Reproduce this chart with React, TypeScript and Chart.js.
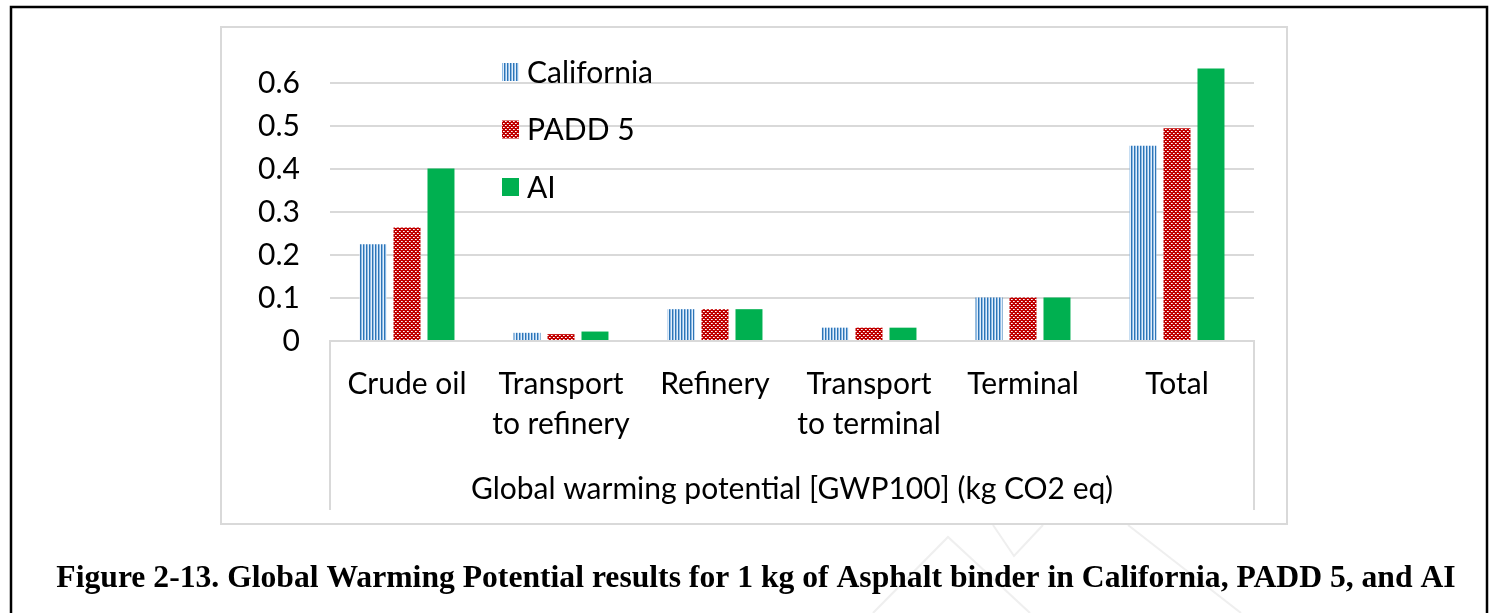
import React, { useEffect, useRef } from 'react';
import { Chart, registerables } from 'chart.js';

Chart.register(...registerables);

// ---- data ----
const categories: (string | string[])[] = [
  'Crude oil',
  ['Transport', 'to refinery'],
  'Refinery',
  ['Transport', 'to terminal'],
  'Terminal',
  'Total',
];
const seriesNames = ['California', 'PADD 5', 'AI'];
const californiaValues = [0.225, 0.019, 0.074, 0.031, 0.101, 0.454];
const padd5Values = [0.264, 0.016, 0.074, 0.031, 0.101, 0.495];
const aiValues = [0.401, 0.022, 0.074, 0.031, 0.101, 0.634];
const yTickValues = [0, 0.1, 0.2, 0.3, 0.4, 0.5, 0.6];
const yTickLabels = ['0', '0.1', '0.2', '0.3', '0.4', '0.5', '0.6'];
const xAxisTitle = 'Global warming potential [GWP100] (kg CO2 eq)';
const captionText =
  'Figure 2-13. Global Warming Potential results for 1 kg of Asphalt binder in California, PADD 5, and AI';

// ---- style ----
const FONT = 'Lato';
const FS = 30;
const GRID = '#d9d9d9';

function makePattern(w: number, h: number, draw: (c: CanvasRenderingContext2D) => void) {
  const cv = document.createElement('canvas');
  cv.width = w;
  cv.height = h;
  const c = cv.getContext('2d')!;
  draw(c);
  return c.createPattern(cv, 'repeat')!;
}

export default function App() {
  const ref = useRef<HTMLCanvasElement>(null);

  useEffect(() => {
    const stripes = makePattern(3, 4, (c) => {
      c.fillStyle = '#e4eef9';
      c.fillRect(0, 0, 3, 4);
      c.fillStyle = '#2e75b6';
      c.fillRect(0, 0, 1, 4);
      c.fillStyle = '#8dbbe6';
      c.fillRect(1, 0, 1, 4);
    });
    const dots = makePattern(4, 4, (c) => {
      c.fillStyle = '#c00000';
      c.fillRect(0, 0, 4, 4);
      c.fillStyle = '#ffffff';
      c.fillRect(1, 1, 1, 1);
      c.fillRect(3, 3, 1, 1);
      c.fillStyle = '#f0b0b0';
      c.fillRect(2, 1, 1, 1);
      c.fillRect(0, 3, 1, 1);
    });
    const green = '#00b050';

    const decor = {
      id: 'decor',
      beforeDraw(chart: any) {
        const ctx: CanvasRenderingContext2D = chart.ctx;
        ctx.save();
        ctx.fillStyle = '#ffffff';
        ctx.fillRect(0, 0, chart.width, chart.height);
        // faint watermark
        ctx.strokeStyle = '#efefef';
        ctx.lineWidth = 2;
        ctx.beginPath();
        ctx.moveTo(873, 613);
        ctx.lineTo(948, 537);
        ctx.lineTo(1030, 613);
        ctx.moveTo(993, 525);
        ctx.lineTo(1014, 556);
        ctx.lineTo(1043, 525);
        ctx.moveTo(1128, 525);
        ctx.lineTo(1241, 613);
        ctx.stroke();
        // outer page border
        ctx.strokeStyle = '#000000';
        ctx.lineWidth = 2.5;
        ctx.strokeRect(11, 7, 1476, 640);
        // chart frame
        ctx.fillStyle = '#ffffff';
        ctx.fillRect(220, 26, 1068, 499);
        ctx.strokeStyle = GRID;
        ctx.lineWidth = 2;
        ctx.strokeRect(221, 27, 1066, 497);
        ctx.restore();
      },
      afterDraw(chart: any) {
        const ctx: CanvasRenderingContext2D = chart.ctx;
        const { left, right, bottom } = chart.chartArea;
        ctx.save();
        // multi-level category box sides
        ctx.strokeStyle = GRID;
        ctx.lineWidth = 2;
        ctx.beginPath();
        ctx.moveTo(left, bottom);
        ctx.lineTo(left, 510);
        ctx.moveTo(right, bottom);
        ctx.lineTo(right, 510);
        ctx.stroke();
        // legend
        const legendX = 502;
        const legendY0 = 72;
        const legendStep = 57.5;
        ctx.font = `${FS}px ${FONT}`;
        ctx.textBaseline = 'middle';
        ctx.textAlign = 'left';
        chart.data.datasets.forEach((ds: any, i: number) => {
          const cy = legendY0 + i * legendStep;
          ctx.fillStyle = ds.backgroundColor;
          ctx.fillRect(legendX, cy - 9, 17, 18);
          ctx.fillStyle = '#000000';
          ctx.fillText(ds.label, legendX + 25, cy + 1);
        });
        // caption
        let size = 29;
        ctx.font = `bold ${size}px "Liberation Serif"`;
        const w = ctx.measureText(captionText).width;
        size = (size * 1400) / w;
        ctx.font = `bold ${size}px "Liberation Serif"`;
        ctx.textAlign = 'center';
        ctx.fillStyle = '#000000';
        ctx.fillText(captionText, 756, 579);
        ctx.restore();
      },
    };

    const chart = new Chart(ref.current!, {
      type: 'bar',
      data: {
        labels: categories,
        datasets: [
          { label: seriesNames[0], data: californiaValues, backgroundColor: stripes as any },
          { label: seriesNames[1], data: padd5Values, backgroundColor: dots as any },
          { label: seriesNames[2], data: aiValues, backgroundColor: green },
        ],
      },
      options: {
        responsive: false,
        animation: false,
        devicePixelRatio: 1,
        layout: { padding: { left: 0, top: 40, right: 239, bottom: 0 } },
        datasets: {
          bar: { categoryPercentage: 0.662, barPercentage: 0.794 },
        },
        plugins: {
          legend: { display: false },
          tooltip: { enabled: false },
          title: { display: false },
        },
        scales: {
          x: {
            grid: { display: false, drawTicks: false },
            border: { display: true, color: GRID, width: 2 },
            ticks: {
              color: '#000000',
              padding: 23,
              maxRotation: 0,
              autoSkip: false,
              font: { family: FONT, size: FS, lineHeight: 40 / FS },
            },
            title: {
              display: true,
              text: xAxisTitle,
              color: '#000000',
              font: { family: FONT, size: FS, lineHeight: 1.2 },
              padding: { top: 0, bottom: 124 - FS * 0.6 },
            },
            afterFit(scale: any) {
              scale.height = 272;
              scale.paddingLeft = 0;
              scale.paddingRight = 0;
            },
          },
          y: {
            min: 0,
            max: 0.7,
            grid: {
              color: GRID,
              lineWidth: 2,
              drawTicks: false,
            },
            border: { display: false },
            ticks: {
              color: '#000000',
              padding: 30,
              font: { family: FONT, size: FS },
              callback: (_v: any, i: number) => yTickLabels[i],
            },
            afterBuildTicks(scale: any) {
              scale.ticks = yTickValues.map((v) => ({ value: v }));
            },
            afterFit(scale: any) {
              scale.width = 330;
              scale.paddingTop = 0;
              scale.paddingBottom = 0;
            },
          },
        },
      },
      plugins: [decor],
    });
    return () => chart.destroy();
  }, []);

  return (
    <div style={{ position: 'fixed', left: 0, top: 0, width: 1493, height: 613 }}>
      <canvas ref={ref} width={1493} height={613} />
    </div>
  );
}
